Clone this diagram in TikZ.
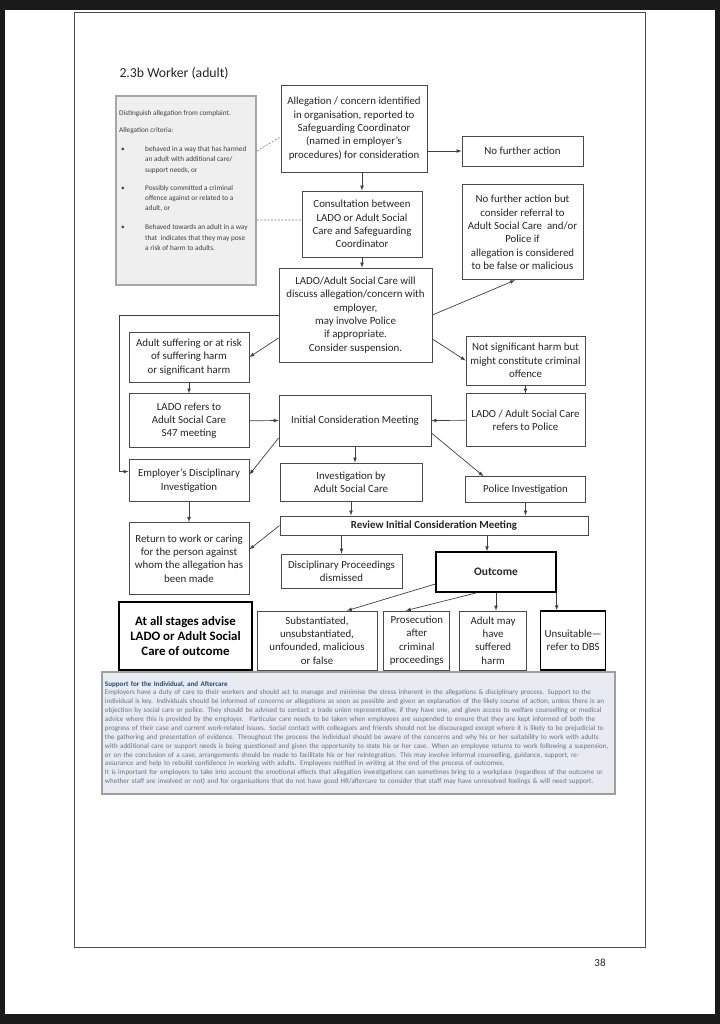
\documentclass[tikz,border=0pt]{standalone}
\usepackage{fontspec}
\setmainfont{Carlito}
\usetikzlibrary{positioning,arrows}
\definecolor{pageblack}{HTML}{1A1A1A}
\definecolor{boxline}{HTML}{4A4A4A}
\definecolor{critfill}{HTML}{EFEFEF}
\definecolor{suppfill}{HTML}{E8EBF0}
\definecolor{supptitle}{HTML}{1F4E79}
\definecolor{supptext}{HTML}{66758C}
\tikzstyle{flowbox}=[draw=boxline,line width=0.8bp,align=center,inner sep=1bp,text=black!85,font=\fontsize{10.9}{13.4}\selectfont]
\tikzstyle{boldbox}=[draw=black,line width=1.4bp,font=\bfseries\fontsize{11.5}{13}\selectfont]
\tikzstyle{link}=[->,draw=black!75,line width=0.7bp]
\tikzset{boxsize/.style 2 args={minimum width=#1bp,minimum height=#2bp}}
\newcommand{\newBox}[4]{\node[flowbox,#3](#1)[#4]{#2};}
\newcommand{\newLink}[3]{\draw[link,#3] (#1) -- (#2);}

\begin{document}
\begin{tikzpicture}[x=1bp,y=-1bp,>=latex]
    \useasboundingbox (0,0) rectangle (720,1024);
    % page
    \fill[pageblack] (0,0) rectangle (720,1024);
    \fill[white] (5,10) rectangle (715,1014);
    \draw[black!70,line width=0.8bp] (74,12) rectangle (645,947);
    \node[anchor=west,text=black!85,font=\fontsize{13.8}{16}\selectfont] (title) at (116,73) {2.3b Worker (adult)};
    \node[text=black!85,font=\fontsize{11}{13}\selectfont] (pageno) at (600,963) {38};

    % criteria box
    \node[draw=gray!70,line width=1.5bp,fill=critfill,boxsize={140}{189}] (crit) at (186,190.5) {};
    \node[anchor=north west,inner sep=0,align=left,text=black!75,font=\fontsize{7.3}{10.5}\selectfont] (critText) at (119,110) {%
      Distinguish allegation from complaint.\\[6.5bp]
      Allegation criteria:\\[8.5bp]
      \hspace*{2bp}\makebox[24bp][l]{•}behaved in a way that has harmed\\
      \hspace*{26bp}an adult with additional care/\\
      \hspace*{26bp}support needs, or\\[7.5bp]
      \hspace*{2bp}\makebox[24bp][l]{•}Possibly committed a criminal\\
      \hspace*{26bp}offence against or related to a\\
      \hspace*{26bp}adult, or\\[8.5bp]
      \hspace*{2bp}\makebox[24bp][l]{•}Behaved towards an adult in a way\\
      \hspace*{26bp}that \ indicates that they may pose\\
      \hspace*{26bp}a risk of harm to adults.};

    % flow boxes
    \newBox{A}{Allegation / concern identified\\in organisation, reported to\\Safeguarding Coordinator\\(named in employer’s\\procedures) for consideration}{boxsize={146}{87}}{at={(354,128.5)}}
    \newBox{nfa}{No further action}{boxsize={121}{30}}{at={(522.5,151)}}
    \newBox{B}{Consultation between\\LADO or Adult Social\\Care and Safeguarding\\Coordinator}{boxsize={120}{66}}{at={(362,224)}}
    \newBox{nfaRef}{No further action but\\consider referral to\\Adult Social Care \ and/or\\Police if\\allegation is considered\\to be false or malicious}{boxsize={121}{95}}{below=18bp of nfa}
    \newBox{C}{LADO/Adult Social Care will\\discuss allegation/concern with\\employer,\\may involve Police\\if appropriate.\\Consider suspension.}{boxsize={153}{94}}{at={(355.5,315)}}
    \newBox{D}{Adult suffering or at risk\\of suffering harm\\or significant harm}{boxsize={120}{50}}{at={(189,357)}}
    \newBox{F}{LADO refers to\\Adult Social Care\\S47 meeting}{boxsize={120}{54}}{below=11bp of D}
    \newBox{E}{Employer’s Disciplinary\\Investigation}{boxsize={120}{42}}{below=11bp of F}
    \newBox{RW}{Return to work or caring\\for the person against\\whom the allegation has\\been made}{boxsize={120}{72}}{below=20bp of E}
    \newBox{G}{Not significant harm but\\might constitute criminal\\offence}{boxsize={119}{49}}{at={(525.5,360.5)}}
    \newBox{H}{LADO / Adult Social Care\\refers to Police}{boxsize={119}{53}}{below=8bp of G}
    \newBox{P}{Police Investigation}{boxsize={120}{26}}{below=29bp of H}
    \newBox{ICM}{Initial Consideration Meeting}{boxsize={152}{51}}{at={(355,420.5)}}
    \newBox{I}{Investigation by\\Adult Social Care}{boxsize={142}{38}}{at={(351,482)}}
    \newBox{R}{Review Initial Consideration Meeting}{boxsize={308}{19},draw=boxline,line width=1bp,font=\bfseries\fontsize{10.9}{12}\selectfont}{at={(434,525.5)}}
    \newBox{DP}{Disciplinary Proceedings\\dismissed}{boxsize={121}{34}}{at={(341.5,571)}}
    \newBox{O}{Outcome}{boxsize={120}{40},boldbox}{at={(496,572)}}
    \newBox{all}{At all stages advise\\LADO or Adult Social\\Care of outcome}{boxsize={133}{68},boldbox,text=black,font=\bfseries\fontsize{12.9}{15}\selectfont}{at={(185.5,636)}}
    \newBox{S1}{Substantiated,\\unsubstantiated,\\unfounded, malicious\\or false}{boxsize={120}{59}}{at={(317,640.5)}}
    \newBox{S2}{Prosecution\\after\\criminal\\proceedings}{boxsize={66}{59}}{right=6bp of S1}
    \newBox{S3}{Adult may\\have\\suffered\\harm}{boxsize={67}{59}}{right=9bp of S2}
    \newBox{S4}{Unsuitable—\\refer to DBS}{boxsize={65}{59},boldbox,font=\fontsize{10.9}{13.4}\selectfont}{right=13bp of S3}

    % support and aftercare
    \node[draw=gray!75,line width=1.2bp,fill=suppfill,boxsize={513}{122},text width=507bp,inner sep=3bp,align=left,text=supptext,font=\fontsize{7.1}{8.9}\selectfont] (support) at (358.5,733) {%
      {\bfseries\color{supptitle}Support for the Individual, and Aftercare}\\
      Employers have a duty of care to their workers and should act to manage and minimise the stress inherent in the allegations \& disciplinary process. Support to the\\
      individual is key. Individuals should be informed of concerns or allegations as soon as possible and given an explanation of the likely course of action, unless there is an\\
      objection by social care or police. They should be advised to contact a trade union representative, if they have one, and given access to welfare counselling or medical\\
      advice where this is provided by the employer. \ Particular care needs to be taken when employees are suspended to ensure that they are kept informed of both the\\
      progress of their case and current work-related issues. Social contact with colleagues and friends should not be discouraged except where it is likely to be prejudicial to\\
      the gathering and presentation of evidence. Throughout the process the individual should be aware of the concerns and why his or her suitability to work with adults\\
      with additional care or support needs is being questioned and given the opportunity to state his or her case. When an employee returns to work following a suspension,\\
      or on the conclusion of a case, arrangements should be made to facilitate his or her reintegration. This may involve informal counselling, guidance, support, re-\\
      assurance and help to rebuild confidence in working with adults. Employees notified in writing at the end of the process of outcomes.\\
      It is important for employers to take into account the emotional effects that allegation investigations can sometimes bring to a workplace (regardless of the outcome or\\
      whether staff are involved or not) and for organisations that do not have good HR/aftercare to consider that staff may have unresolved feelings \& will need support.};

    % dashed links from the criteria
    \draw[gray,line width=0.7bp,dash pattern=on 2bp off 1.5bp] ([yshift=39.5bp]crit.east) -- ([yshift=-8.5bp]A.west);
    \draw[gray,line width=0.7bp,dash pattern=on 2bp off 1.5bp] ([yshift=-29.5bp]crit.east) -- ([yshift=4bp]B.west);

    % arrows
    \newLink{nfa.west -| A.east}{nfa.west}{}
    \newLink{B.north |- A.south}{B.north}{}
    \newLink{B.south}{B.south |- C.north}{}
    \newLink{C.east}{[xshift=-7.5bp]nfaRef.south}{}
    \newLink{[yshift=-23bp]C.west}{D.east}{}
    \newLink{[yshift=-24bp]C.east}{G.west}{}
    \draw[link] (C.west) -- ++(-159bp,0) |- ([yshift=9bp]E.west);
    \newLink{D.south}{F.north}{}
    \newLink{G.south}{H.north}{}
    \newLink{F.east}{ICM.west}{}
    \newLink{H.west}{ICM.east}{}
    \newLink{[yshift=-17.5bp]ICM.west}{[yshift=6bp]E.east}{}
    \newLink{ICM.south}{ICM.south |- I.north}{}
    \newLink{[yshift=-12.5bp]ICM.east}{[xshift=-42bp]P.north}{}
    \newLink{E.south}{RW.north}{}
    \newLink{I.south}{I.south |- R.north}{}
    \newLink{P.south}{P.south |- R.north}{}
    \newLink{R.west}{[yshift=9bp]RW.east}{}
    \newLink{DP.north |- R.south}{DP.north}{}
    \newLink{[xshift=-9bp]O.north |- R.south}{[xshift=-9bp]O.north}{}
    \newLink{[yshift=-12bp]O.west}{[xshift=30bp]S1.north}{}
    \newLink{[xshift=-19bp]O.south}{[xshift=-11bp]S2.north}{}
    \newLink{O.south}{O.south |- S3.north}{}
    \newLink{O.south east}{O.south east |- S4.north}{}
\end{tikzpicture}
\end{document}
